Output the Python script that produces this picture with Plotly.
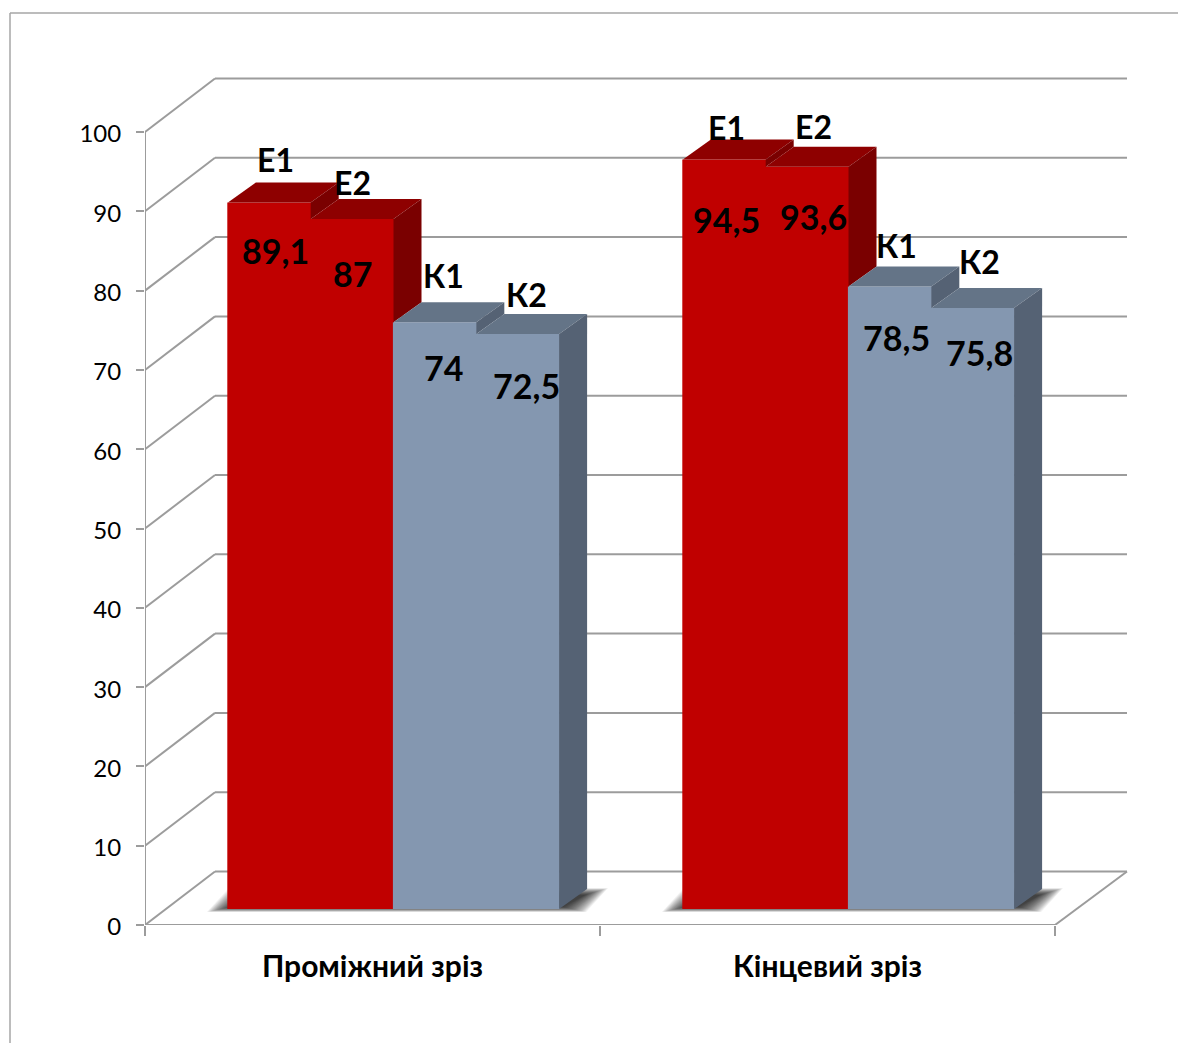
import plotly.graph_objects as go

categories = ["Проміжний зріз", "Кінцевий зріз"]
series_names = ["Е1", "Е2", "К1", "К2"]
e1 = [89.1, 94.5]
e2 = [87, 93.6]
k1 = [74, 78.5]
k2 = [72.5, 75.8]
value_text = [["89,1", "87", "74", "72,5"], ["94,5", "93,6", "78,5", "75,8"]]
y_ticks = [0, 10, 20, 30, 40, 50, 60, 70, 80, 90, 100]

W, H = 1178, 1043
L, R, T, B = 145, 1135, 70, 925
PXX = 455.0
PXY = 7.93
def ux(px): return px / PXX
def uy(px): return px / PXY

FONT = "Lato, 'Noto Sans', sans-serif"
GRID = "#9C9C9C"
front = ["#C00000", "#C00000", "#8497B0", "#8497B0"]
top_c = ["#8E0000", "#8E0000", "#647487", "#647487"]
side_c = ["#7A0000", "#7A0000", "#556274", "#556274"]

floor = uy(16)
bw = ux(82.8)
shift = ux(21)
dx, dy = ux(28), uy(20)
wx, wy = ux(70), uy(53.5)
xmax_back = ux(1127 - 145)
xmax_front = 2.0

def path(points):
    return "M" + " L".join(f"{a:.5f},{b:.4f}" for a, b in points) + " Z"

shapes = []
line = dict(color=GRID, width=2)
def pap_x(px): return (px - L) / (R - L)
def pap_y(py): return (B - py) / (B - T)
shapes.append(dict(type="line", xref="paper", yref="paper", x0=pap_x(10), x1=pap_x(10), y0=pap_y(13), y1=pap_y(1043),
                   line=dict(color="#A6A6A6", width=1.5), layer="below"))
shapes.append(dict(type="line", xref="paper", yref="paper", x0=pap_x(10), x1=pap_x(1178), y0=pap_y(13), y1=pap_y(13),
                   line=dict(color="#A6A6A6", width=1.5), layer="below"))
for t in y_ticks:
    shapes.append(dict(type="line", x0=wx, x1=xmax_back, y0=t + wy, y1=t + wy, line=line, layer="below"))
    shapes.append(dict(type="line", x0=0, x1=wx, y0=t, y1=t + wy, line=line, layer="below"))
shapes.append(dict(type="line", x0=0, x1=0, y0=0, y1=100, line=line, layer="below"))
shapes.append(dict(type="line", x0=0, x1=xmax_front, y0=0, y1=0, line=line, layer="below"))
shapes.append(dict(type="line", x0=xmax_front, x1=xmax_back, y0=0, y1=wy, line=line, layer="below"))

fig = go.Figure()

series = [e1, e2, k1, k2]
n_cat = len(categories)
for s, vals in enumerate(series):
    fig.add_trace(go.Bar(
        x=[c + 0.5 + shift + (s - 1.5) * bw for c in range(n_cat)],
        y=vals, base=floor, width=bw + ux(1.2), name=series_names[s],
        marker=dict(color=front[s], line=dict(width=0)),
        hoverinfo="skip", showlegend=False))

def poly(points, color):
    fig.add_trace(go.Scatter(x=[p[0] for p in points], y=[p[1] for p in points], mode="lines",
                             fill="toself", fillcolor=color, line=dict(width=0),
                             hoverinfo="skip", showlegend=False))

label_dx = [[6.5, 0, 8.5, 8.5], [2.5, 6.5, 7, 7]]
name_y = [[-43, -37, -47, -40], [-32, -40, -41, -46]]  # px offset of series name from bar top
val_y = [[48, 54, 45, 51], [60, 50, 51, 45]]           # px offset of value from bar top
annotations = []
for c in range(n_cat):
    cx = c + 0.5 + shift
    x0, x1 = cx - 2 * bw, cx + 2 * bw
    # floor shadow, layered to imitate a soft blur
    for k in range(24):
        g = (23 - k) * 1.0
        shapes.append(dict(type="path", layer="below", line=dict(width=0),
                           fillcolor="rgba(0,0,0,0.05)",
                           path=path([(x0 + ux(2 - g), floor + uy(2) - uy(g * 0.22)),
                                      (x1 + ux(4 + g), floor + uy(2) - uy(g * 0.22)),
                                      (x1 + ux(26 + g), floor + uy(14) + uy(g * 0.3)),
                                      (x0 + ux(24 - g), floor + uy(14) + uy(g * 0.3))])))
    for s, vals in enumerate(series):
        v = vals[c] + floor
        xl = cx + (s - 2) * bw
        xr = xl + bw
        nxt = series[s + 1][c] + floor if s < 3 else floor
        poly([(xl, v), (xr, v), (xr + dx, v + dy), (xl + dx, v + dy)], top_c[s])
        poly([(xr, v), (xr + dx, v + dy), (xr + dx, nxt + dy), (xr, nxt)], side_c[s])
        xc = (xl + xr) / 2 + ux(label_dx[c][s])
        annotations.append(dict(x=xc, y=v, text=f"<b>{series_names[s]}</b>", showarrow=False,
                                yshift=-name_y[c][s], font=dict(family=FONT, size=32, color="black")))
        annotations.append(dict(x=xc, y=v, text=f"<b>{value_text[c][s]}</b>", showarrow=False,
                                yshift=-val_y[c][s], font=dict(family=FONT, size=34, color="black")))

fig.update_layout(
    width=W, height=H, autosize=False,
    margin=dict(l=L, r=W - R, t=T, b=H - B, pad=0),
    paper_bgcolor="white", plot_bgcolor="rgba(0,0,0,0)",
    barmode="overlay", showlegend=False,
    font=dict(family=FONT, color="black"),
    shapes=shapes, annotations=annotations,
    xaxis=dict(range=[0, (R - L) / PXX], showgrid=False, zeroline=False, showline=False,
               tickmode="array", tickvals=[c + 0.5 for c in range(n_cat)],
               ticktext=[f"<b>{c}</b>" for c in categories], ticks="", ticklabelstandoff=21,
               tickfont=dict(family=FONT, size=30, color="black"),
               minor=dict(ticks="outside", ticklen=10, tickwidth=2, tickcolor=GRID,
                          tickmode="array", tickvals=[0, 1, 2], showgrid=False)),
    yaxis=dict(range=[0, (B - T) / PXY], showgrid=False, zeroline=False, showline=False,
               tickmode="array", tickvals=y_ticks, ticks="outside", ticklen=8, tickwidth=2, tickcolor=GRID,
               ticklabelstandoff=10, ticklabelshift=2, tickfont=dict(family=FONT, size=24, color="black")),
)
fig.write_html("out.html", post_script="document.body.style.margin='0';document.documentElement.style.overflow='hidden';",
               config=dict(displayModeBar=False))
